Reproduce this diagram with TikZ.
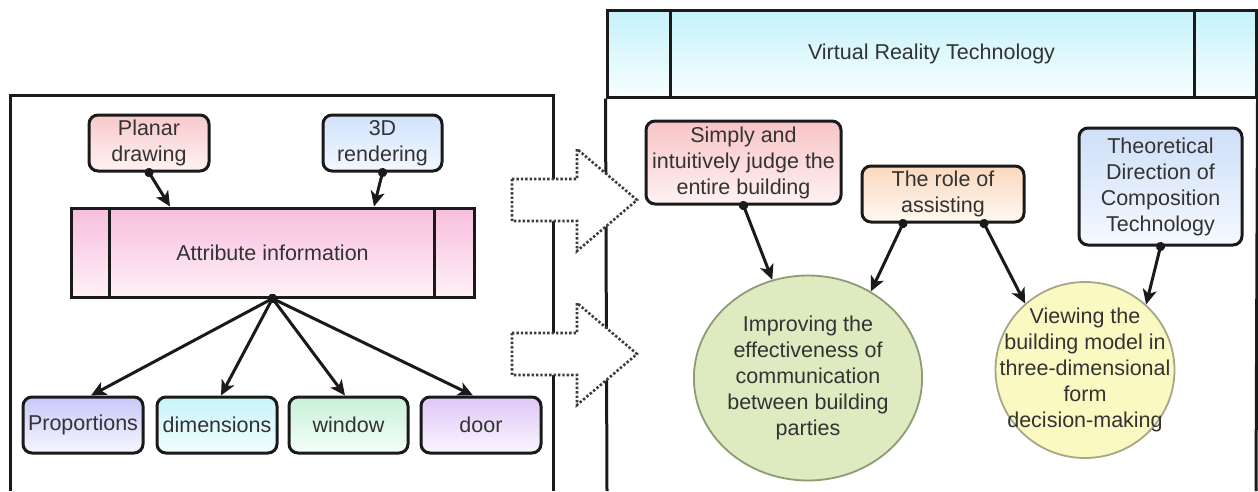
\documentclass[tikz,border=0pt]{standalone}
\usepackage{fontspec}
\setmainfont{Liberation Sans}
\usetikzlibrary{arrows.meta,shapes.geometric}

\definecolor{ink}{HTML}{1A1A1A}
\definecolor{txt}{HTML}{333333}
\definecolor{planarTop}{HTML}{F8C9CA}\definecolor{planarBot}{HTML}{FFF3F3}
\definecolor{renderTop}{HTML}{D0E2FA}\definecolor{renderBot}{HTML}{F4F8FF}
\definecolor{attrTop}{HTML}{F7BEDC}\definecolor{attrBot}{HTML}{FFF1F8}
\definecolor{propTop}{HTML}{C8C8F8}\definecolor{propBot}{HTML}{F6F6FF}
\definecolor{dimsTop}{HTML}{C6F4FA}\definecolor{dimsBot}{HTML}{F3FDFE}
\definecolor{winTop}{HTML}{C8F0D8}\definecolor{winBot}{HTML}{F5FFF9}
\definecolor{doorTop}{HTML}{DFC6F6}\definecolor{doorBot}{HTML}{FBF5FF}
\definecolor{judgeTop}{HTML}{F8C4C6}\definecolor{judgeBot}{HTML}{FFF2F2}
\definecolor{assistTop}{HTML}{FAD9BE}\definecolor{assistBot}{HTML}{FFF8F1}
\definecolor{theoryTop}{HTML}{CEDFF8}\definecolor{theoryBot}{HTML}{F5F9FF}
\definecolor{vrTop}{HTML}{C4F2FA}\definecolor{vrBot}{HTML}{F8FEFF}
\definecolor{commFill}{HTML}{DEEABF}\definecolor{commLine}{HTML}{8E9C74}
\definecolor{viewFill}{HTML}{FBF9C2}\definecolor{viewLine}{HTML}{A9A587}

\tikzset{
  every node/.style={font=\fontsize{21.5}{26}\selectfont, text=txt, align=center, inner sep=0pt},
  frame/.style={draw=ink, line width=3pt},
  tag/.style={draw=ink, line width=3pt, rounded corners=9pt},
  bubble/.style={ellipse, line width=1.8pt},
  link/.style={draw=ink, line width=3pt, shorten <=-4.5pt,
    {Circle[length=9pt]}-{Stealth[length=15pt,width=14pt,inset=4pt]}},
  flow/.style={draw=ink!85, line width=2.6pt, dash pattern=on 2.4pt off 2pt, fill=white},
  pics/flowarrow/.style={code={
    \path[flow] (0,-21) -- (65,-21) -- (65,-51) -- (125,0) -- (65,51) -- (65,21) -- (0,21) -- cycle;
  }}
}

\begin{document}
\begin{tikzpicture}[x=1pt, y=-1pt]
\useasboundingbox[fill=white] (0,0) rectangle (1258,491);

% ---- left panel ----
\draw[frame] (10,491) -- (10,95) -- (553,95) -- (553,491);

\node[tag, top color=planarTop, bottom color=planarBot, minimum width=120pt, minimum height=56pt]
  (planar) at (149,143) {Planar\\drawing};
\node[tag, top color=renderTop, bottom color=renderBot, minimum width=119pt, minimum height=56pt]
  (render) at (382.5,143) {3D\\rendering};

\node[frame, top color=attrTop, bottom color=attrBot, minimum width=403pt, minimum height=89pt]
  (attr) at (272.5,252.5) {Attribute information};
\draw[frame] ([xshift=40pt]attr.north west) -- ([xshift=40pt]attr.south west);
\draw[frame] ([xshift=-41pt]attr.north east) -- ([xshift=-41pt]attr.south east);

\node[tag, top color=propTop, bottom color=propBot, minimum width=120pt, minimum height=56pt]
  (prop) at (83,425) {Proportions};
\node[tag, top color=dimsTop, bottom color=dimsBot, minimum width=120pt, minimum height=56pt]
  (dims) at (217,425) {dimensions};
\node[tag, top color=winTop, bottom color=winBot, minimum width=119pt, minimum height=56pt]
  (window) at (348.5,425) {window};
\node[tag, top color=doorTop, bottom color=doorBot, minimum width=120pt, minimum height=56pt]
  (door) at (481,425) {door};

\draw[link] (planar.south) -- ([xshift=-102.5pt]attr.north);
\draw[link] (render.south) -- ([xshift=101.5pt]attr.north);
\draw[link] (attr.south) -- ([xshift=8pt]prop.north);
\draw[link] (attr.south) -- ([xshift=4pt]dims.north);
\draw[link] (attr.south) -- ([xshift=-3.5pt]window.north);
\draw[link] (attr.south) -- ([xshift=-8pt]door.north);

% ---- right panel ----
\node[frame, top color=vrTop, bottom color=vrBot, minimum width=649pt, minimum height=87pt]
  (vr) at (931.5,53.5) {Virtual Reality Technology};
\draw[frame] ([xshift=65pt]vr.north west) -- ([xshift=65pt]vr.south west);
\draw[frame] ([xshift=-63pt]vr.north east) -- ([xshift=-63pt]vr.south east);
\draw[frame] (vr.south west) -- (607,491);
\draw[frame] (vr.south east) -- (1256,491);

\node[tag, top color=judgeTop, bottom color=judgeBot, minimum width=195pt, minimum height=83pt]
  (judge) at (743.5,162.5) {Simply and\\intuitively judge the\\entire building};
\node[tag, top color=assistTop, bottom color=assistBot, minimum width=162pt, minimum height=56pt]
  (assist) at (943,194) {The role of\\assisting};
\node[tag, top color=theoryTop, bottom color=theoryBot, minimum width=163pt, minimum height=117pt]
  (theory) at (1160.5,186.5) {Theoretical\\Direction of\\Composition\\Technology};

\node[bubble, draw=commLine, fill=commFill, minimum width=201pt, minimum height=205pt]
  (comm) at (808,378) {Improving the\\effectiveness of\\communication\\between building\\parties};
\node[bubble, draw=viewLine, fill=viewFill, minimum width=179pt, minimum height=176pt]
  (view) at (1085,370) {};
\node at (view) {Viewing the\\building model in\\three-dimensional\\form\\decision-making};

\draw[link] (judge.south) -- (comm.110);
\draw[link] ([xshift=-40pt]assist.south) -- (comm.54);
\draw[link] ([xshift=41pt]assist.south) -- (view.132);
\draw[link] (theory.south) -- (view.47);

% ---- transfer arrows between the panels ----
\pic at (512,200) {flowarrow};
\pic at (512,354) {flowarrow};
\end{tikzpicture}
\end{document}
